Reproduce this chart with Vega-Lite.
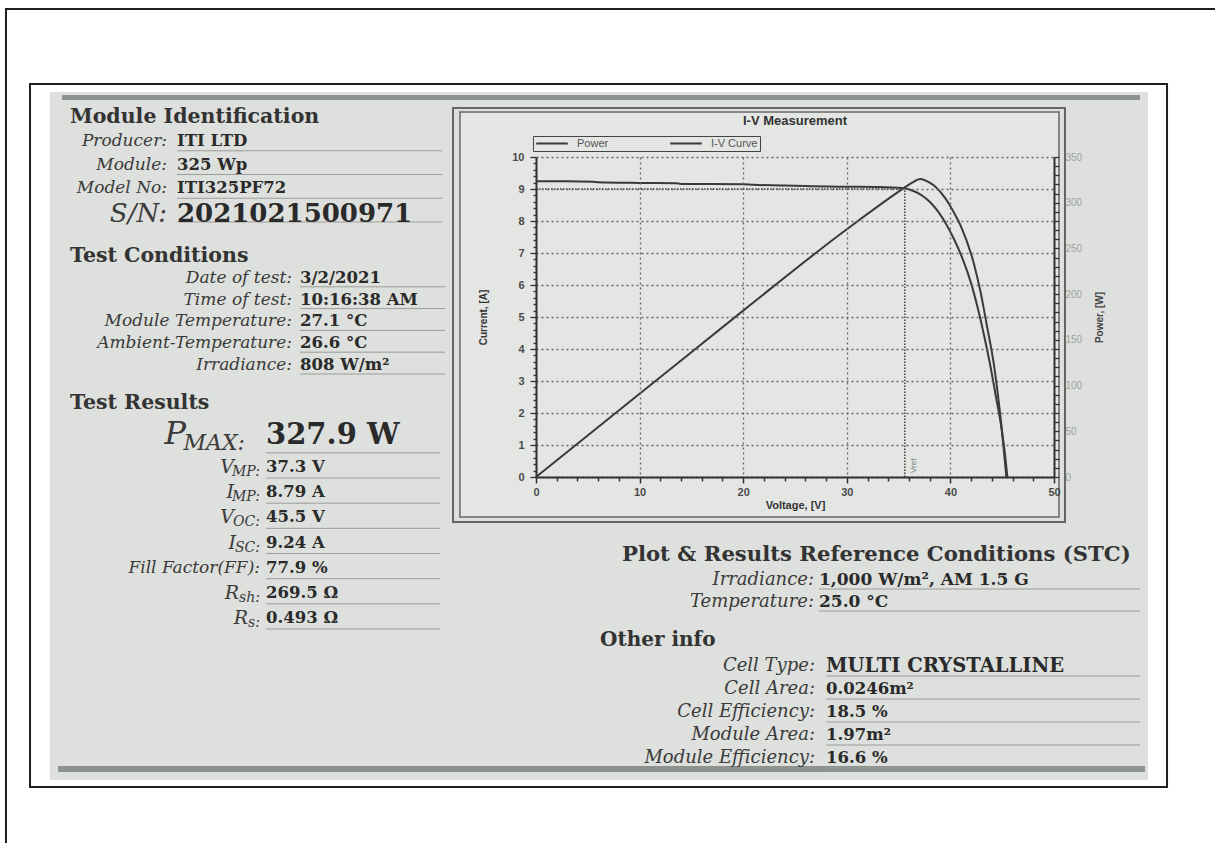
{
 "$schema": "https://vega.github.io/schema/vega-lite/v6.json",
 "width": 518,
 "height": 320,
 "padding": {"left": 536, "top": 157, "right": 161, "bottom": 366},
 "autosize": {"type": "none"},
 "background": "#ffffff",
 "config": {"view": {"stroke": null}, "font": "Liberation Sans"},
 "datasets": {
  "iv": [
   {"V": 0, "I": 9.24}, {"V": 3, "I": 9.24}, {"V": 5.5, "I": 9.23}, {"V": 6, "I": 9.21},
   {"V": 10, "I": 9.19}, {"V": 13.5, "I": 9.18}, {"V": 14, "I": 9.16}, {"V": 20, "I": 9.15},
   {"V": 21, "I": 9.13}, {"V": 24, "I": 9.11}, {"V": 26, "I": 9.09}, {"V": 30, "I": 9.07},
   {"V": 33, "I": 9.06}, {"V": 35.5, "I": 9.02}, {"V": 36.5, "I": 8.93}, {"V": 37.3, "I": 8.79},
   {"V": 38, "I": 8.6}, {"V": 38.8, "I": 8.3}, {"V": 39.6, "I": 7.9}, {"V": 40.4, "I": 7.4},
   {"V": 41.2, "I": 6.8}, {"V": 42, "I": 6.05}, {"V": 42.7, "I": 5.2}, {"V": 43.3, "I": 4.35},
   {"V": 43.9, "I": 3.4}, {"V": 44.4, "I": 2.5}, {"V": 44.9, "I": 1.6}, {"V": 45.2, "I": 0.9},
   {"V": 45.5, "I": 0}
  ],
  "power": [
   {"V": 0, "P": 0}, {"V": 10, "P": 91}, {"V": 20, "P": 182}, {"V": 30, "P": 271},
   {"V": 35.5, "P": 316}, {"V": 36.3, "P": 322}, {"V": 37.1, "P": 326}, {"V": 38, "P": 322},
   {"V": 38.5, "P": 318}, {"V": 39.5, "P": 305}, {"V": 40.3, "P": 290}, {"V": 41.1, "P": 272},
   {"V": 42.3, "P": 232}, {"V": 42.9, "P": 203}, {"V": 43.5, "P": 167}, {"V": 44.2, "P": 123},
   {"V": 44.8, "P": 69}, {"V": 45.4, "P": 0}
  ],
  "ref": [{"label": "Vref", "V": 35.6, "I": 9.0, "V0": 0, "I0": 0}],
  "info": [
   {"sec": "MI", "i": 0, "label": "Module Identification", "value": ""},
   {"sec": "MI", "i": 1, "label": "Producer:", "value": "ITI LTD"},
   {"sec": "MI", "i": 2, "label": "Module:", "value": "325 Wp"},
   {"sec": "MI", "i": 3, "label": "Model No:", "value": "ITI325PF72"},
   {"sec": "MI", "i": 4, "label": "S/N:", "value": "2021021500971"},
   {"sec": "TC", "i": 0, "label": "Test Conditions", "value": ""},
   {"sec": "TC", "i": 1, "label": "Date of test:", "value": "3/2/2021"},
   {"sec": "TC", "i": 2, "label": "Time of test:", "value": "10:16:38 AM"},
   {"sec": "TC", "i": 3, "label": "Module Temperature:", "value": "27.1 °C"},
   {"sec": "TC", "i": 4, "label": "Ambient-Temperature:", "value": "26.6 °C"},
   {"sec": "TC", "i": 5, "label": "Irradiance:", "value": "808 W/m²"},
   {"sec": "TR", "i": 0, "label": "Test Results", "sub": "", "value": ""},
   {"sec": "TR", "i": 1, "label": "P", "sub": "MAX:", "value": "327.9 W"},
   {"sec": "TR", "i": 2, "label": "V", "sub": "MP:", "value": "37.3 V"},
   {"sec": "TR", "i": 3, "label": "I", "sub": "MP:", "value": "8.79 A"},
   {"sec": "TR", "i": 4, "label": "V", "sub": "OC:", "value": "45.5 V"},
   {"sec": "TR", "i": 5, "label": "I", "sub": "SC:", "value": "9.24 A"},
   {"sec": "TR", "i": 6, "label": "Fill Factor(FF):", "sub": "", "value": "77.9 %"},
   {"sec": "TR", "i": 7, "label": "R", "sub": "sh:", "value": "269.5 Ω"},
   {"sec": "TR", "i": 8, "label": "R", "sub": "s:", "value": "0.493 Ω"},
   {"sec": "STC", "i": 0, "label": "Plot & Results Reference Conditions (STC)", "value": ""},
   {"sec": "STC", "i": 1, "label": "Irradiance:", "value": "1,000 W/m², AM 1.5 G"},
   {"sec": "STC", "i": 2, "label": "Temperature:", "value": "25.0 °C"},
   {"sec": "OI", "i": 0, "label": "Other info", "value": ""},
   {"sec": "OI", "i": 1, "label": "Cell Type:", "value": "MULTI CRYSTALLINE"},
   {"sec": "OI", "i": 2, "label": "Cell Area:", "value": "0.0246m²"},
   {"sec": "OI", "i": 3, "label": "Cell Efficiency:", "value": "18.5 %"},
   {"sec": "OI", "i": 4, "label": "Module Area:", "value": "1.97m²"},
   {"sec": "OI", "i": 5, "label": "Module Efficiency:", "value": "16.6 %"}
  ]
 },
 "layer": [
  {
   "layer": [
    {
     "data": {"values": [{}]},
     "mark": {"type": "rect", "fillOpacity": 0, "stroke": "#1e1e1e", "strokeWidth": 2},
     "encoding": {
      "x": {"datum": -51.16, "type": "quantitative", "scale": {"domain": [0, 50], "nice": false, "zero": false}},
      "x2": {"datum": 66.5},
      "y": {"datum": 14.625, "type": "quantitative", "scale": {"domain": [0, 10], "nice": false}},
      "y2": {"datum": -11.97}
     }
    },
    {
     "data": {"values": [{}]},
     "mark": {"type": "rect", "fill": "#dde0dc"},
     "encoding": {"x": {"datum": -46.91, "type": "quantitative"}, "x2": {"datum": 59.07}, "y": {"datum": 12.031, "type": "quantitative"}, "y2": {"datum": -9.469}}
    },
    {
     "data": {"values": [{}]},
     "mark": {"type": "rect", "fill": "#8e928e"},
     "encoding": {"x": {"datum": -45.75, "type": "quantitative"}, "x2": {"datum": 58.3}, "y": {"datum": 11.94, "type": "quantitative"}, "y2": {"datum": 11.78}}
    },
    {
     "data": {"values": [{}]},
     "mark": {"type": "rect", "fill": "#8e928e"},
     "encoding": {"x": {"datum": -46.14, "type": "quantitative"}, "x2": {"datum": 58.78}, "y": {"datum": -9.03, "type": "quantitative"}, "y2": {"datum": -9.22}}
    },
    {
     "data": {"values": [{}]},
     "mark": {"type": "rect", "fillOpacity": 0, "stroke": "#1e1e1e", "strokeWidth": 2},
     "encoding": {"x": {"datum": -48.84, "type": "quantitative"}, "x2": {"datum": 60.91}, "y": {"datum": 12.28, "type": "quantitative"}, "y2": {"datum": -9.69}}
    },
    {
     "data": {"values": [{}]},
     "mark": {"type": "rect", "fillOpacity": 0, "stroke": "#666666", "strokeWidth": 2},
     "encoding": {"x": {"datum": -8.01, "type": "quantitative"}, "x2": {"datum": 51.06}, "y": {"datum": 11.53, "type": "quantitative"}, "y2": {"datum": -1.41}}
    },
    {
     "data": {"values": [{}]},
     "mark": {"type": "rect", "fill": "#e3e6e2", "stroke": "#666666", "strokeWidth": 1.5},
     "encoding": {"x": {"datum": -7.34, "type": "quantitative"}, "x2": {"datum": 50.48}, "y": {"datum": 11.41, "type": "quantitative"}, "y2": {"datum": -1.25}}
    },
    {
     "data": {"name": "ref"},
     "mark": {"type": "rule", "color": "#444444", "strokeWidth": 1.5, "strokeDash": [1.5, 1.5]},
     "encoding": {"x": {"field": "V", "type": "quantitative", "title": "Voltage, [V]"}, "y": {"field": "I0", "type": "quantitative", "title": "Current, [A]"}, "y2": {"field": "I"}}
    },
    {
     "data": {"name": "ref"},
     "mark": {"type": "rule", "color": "#444444", "strokeWidth": 1.5, "strokeDash": [1.5, 1.5]},
     "encoding": {"x": {"field": "V0", "type": "quantitative", "title": "Voltage, [V]"}, "x2": {"field": "V"}, "y": {"field": "I", "type": "quantitative", "title": "Current, [A]"}}
    },
    {
     "data": {"name": "iv"},
     "mark": {"type": "line", "strokeWidth": 2, "interpolate": "monotone"},
     "encoding": {
      "x": {
       "field": "V", "type": "quantitative", "title": "Voltage, [V]",
       "scale": {"domain": [0, 50], "nice": false, "zero": false},
       "axis": {
        "orient": "bottom", "values": [0, 10, 20, 30, 40, 50], "tickCount": 100, "format": "d",
        "labelFont": "Liberation Sans", "labelFontSize": 11, "labelFontWeight": "bold", "labelColor": "#4a4a4a", "labelPadding": 3, "labelFlush": false, "labelOverlap": false,
        "tickColor": "#333333", "tickWidth": 1.5, "tickSize": 6,
        "domainColor": "#333333", "domainWidth": 2,
        "grid": true, "gridColor": "#666666", "gridDash": [2, 3], "gridWidth": 1.3,
        "titleFont": "Liberation Sans", "titleFontSize": 11, "titleFontWeight": "bold", "titleColor": "#333333", "titlePadding": 2,
        "zindex": 1
       }
      },
      "y": {
       "field": "I", "type": "quantitative", "title": "Current, [A]",
       "scale": {"domain": [0, 10], "nice": false},
       "axis": {
        "orient": "left", "values": [0, 1, 2, 3, 4, 5, 6, 7, 8, 9, 10], "tickCount": 100, "format": "d",
        "labelFont": "Liberation Sans", "labelFontSize": 11, "labelFontWeight": "bold", "labelColor": "#4a4a4a", "labelPadding": 6, "labelFlush": false, "labelOverlap": false,
        "tickColor": "#333333", "tickWidth": 1.3, "tickSize": 6,
        "domainColor": "#333333", "domainWidth": 2,
        "grid": true, "gridColor": "#666666", "gridDash": [2, 3], "gridWidth": 1.3,
        "titleFont": "Liberation Sans", "titleFontSize": 10, "titleFontWeight": "bold", "titleColor": "#333333", "titlePadding": 23,
        "zindex": 1
       }
      },
      "color": {
       "datum": "I-V Curve", "type": "nominal",
       "scale": {"domain": ["Power", "I-V Curve"], "range": ["#3a3a3a", "#3a3a3a"]},
       "legend": {
        "orient": "none", "legendX": -3, "legendY": -21, "direction": "horizontal", "title": null,
        "symbolType": "stroke", "symbolSize": 1000, "symbolStrokeWidth": 2, "symbolStrokeColor": "#3a3a3a",
        "labelFont": "Liberation Sans", "labelFontSize": 11, "labelColor": "#555555",
        "padding": 2, "strokeColor": "#444444", "fillColor": "#e3e6e2",
        "columnPadding": 60, "labelOffset": 8, "clipHeight": 11
       }
      }
     }
    }
   ]
  },
  {
   "data": {"name": "power"},
   "mark": {"type": "line", "strokeWidth": 2, "interpolate": "monotone"},
   "encoding": {
    "x": {
     "field": "V", "type": "quantitative",
     "scale": {"domain": [0, 50], "nice": false, "zero": false},
     "axis": {
      "orient": "bottom", "title": null, "values": [2,4,6,8,12,14,16,18,22,24,26,28,32,34,36,38,42,44,46,48], "tickCount": 100,
      "labels": false, "domain": false, "grid": false, "tickSize": 4, "tickWidth": 1.5, "tickColor": "#333333", "zindex": 1
     }
    },
    "y": {
     "field": "P", "type": "quantitative", "title": "Power, [W]",
     "scale": {"domain": [0, 350], "nice": false},
     "axis": {
      "orient": "right", "tickCount": 100, "format": "d",
      "values": [0,10,20,30,40,50,60,70,80,90,100,110,120,130,140,150,160,170,180,190,200,210,220,230,240,250,260,270,280,290,300,310,320,330,340,350],
      "labelExpr": "datum.value % 50 === 0 ? datum.label : ''",
      "labelOverlap": false, "labelFlush": false,
      "labelFont": "Liberation Sans", "labelFontSize": 10, "labelColor": "#a0a0a0", "labelPadding": 6,
      "tickColor": "#333333", "tickWidth": 1.3, "tickSize": 5,
      "domainColor": "#333333", "domainWidth": 2,
      "grid": false,
      "titleFont": "Liberation Sans", "titleFontSize": 10, "titleFontWeight": "bold", "titleColor": "#444444", "titlePadding": 23, "titleAngle": 270,
      "zindex": 1
     }
    },
    "color": {"datum": "Power", "type": "nominal"}
   }
  },
  {
   "data": {"name": "ref"},
   "mark": {"type": "text", "angle": 270, "align": "left", "baseline": "middle", "fontSize": 8, "color": "#777777", "dx": 4, "dy": 9},
   "encoding": {
    "x": {"field": "V", "type": "quantitative", "scale": {"domain": [0, 50], "nice": false, "zero": false}, "axis": null},
    "y": {
     "field": "I0", "type": "quantitative",
     "scale": {"domain": [0, 10], "nice": false},
     "axis": {
      "orient": "left", "title": null, "tickCount": 100,
      "values": [0.2,0.4,0.6,0.8,1.2,1.4,1.6,1.8,2.2,2.4,2.6,2.8,3.2,3.4,3.6,3.8,4.2,4.4,4.6,4.8,5.2,5.4,5.6,5.8,6.2,6.4,6.6,6.8,7.2,7.4,7.6,7.8,8.2,8.4,8.6,8.8,9.2,9.4,9.6,9.8],
      "labels": false, "domain": false, "grid": false, "tickSize": 3, "tickWidth": 1.3, "tickColor": "#333333", "zindex": 1
     }
    },
    "text": {"field": "label"}
   }
  },
  {
   "data": {"values": [{"t": "I-V Measurement", "n": 0}]},
   "mark": {"type": "text", "font": "Liberation Sans", "fontWeight": "bold", "fontSize": 13, "color": "#333333", "baseline": "middle"},
   "encoding": {
    "x": {"datum": 0.5, "type": "quantitative", "scale": {"domain": [0, 1], "range": [0, 518]}, "axis": null},
    "y": {"field": "n", "type": "quantitative", "scale": {"domain": [0, 1], "range": [-36, 0]}, "axis": null},
    "text": {"field": "t"}
   }
  },
  {
   "data": {"name": "info"},
   "transform": [{"filter": "datum.sec === 'MI'"}],
   "encoding": {
    "x": {"datum": 0, "type": "quantitative", "scale": {"domain": [0, 1], "range": [-359, -94]}, "axis": null},
    "y": {"field": "i", "type": "quantitative", "scale": {"domain": [0, 4], "range": [-40, 55]}, "axis": null}
   },
   "layer": [
    {"transform": [{"filter": "datum.i === 0"}], "mark": {"type": "text", "align": "left", "baseline": "middle", "font": "DejaVu Serif", "fontWeight": "bold", "fontSize": 20.5, "color": "#333333", "dx": -107}, "encoding": {"text": {"field": "label"}}},
    {"transform": [{"filter": "datum.i > 0"}], "mark": {"type": "rule", "color": "#9c9c9c", "strokeWidth": 1, "yOffset": 10}, "encoding": {"x2": {"datum": 1}}},
    {"transform": [{"filter": "datum.i > 0 && datum.i < 4"}], "mark": {"type": "text", "align": "right", "baseline": "middle", "font": "DejaVu Serif", "fontStyle": "italic", "fontSize": 17, "color": "#3a3a3a", "dx": -10}, "encoding": {"text": {"field": "label"}}},
    {"transform": [{"filter": "datum.i > 0 && datum.i < 4"}], "mark": {"type": "text", "align": "left", "baseline": "middle", "font": "DejaVu Serif", "fontWeight": "bold", "fontSize": 16.5, "color": "#2a2a2a"}, "encoding": {"text": {"field": "value"}}},
    {"transform": [{"filter": "datum.i === 4"}], "mark": {"type": "text", "align": "right", "baseline": "middle", "font": "DejaVu Serif", "fontStyle": "italic", "fontSize": 26, "color": "#3a3a3a", "dx": -10, "dy": 2}, "encoding": {"text": {"field": "label"}}},
    {"transform": [{"filter": "datum.i === 4"}], "mark": {"type": "text", "align": "left", "baseline": "middle", "font": "DejaVu Serif", "fontWeight": "bold", "fontSize": 26, "color": "#2a2a2a", "dy": 2}, "encoding": {"text": {"field": "value"}}}
   ]
  },
  {
   "data": {"name": "info"},
   "transform": [{"filter": "datum.sec === 'TC'"}],
   "encoding": {
    "x": {"datum": 0, "type": "quantitative", "scale": {"domain": [0, 1], "range": [-236, -91]}, "axis": null},
    "y": {"field": "i", "type": "quantitative", "scale": {"domain": [0, 5], "range": [99, 208]}, "axis": null}
   },
   "layer": [
    {"transform": [{"filter": "datum.i === 0"}], "mark": {"type": "text", "align": "left", "baseline": "middle", "font": "DejaVu Serif", "fontWeight": "bold", "fontSize": 20.5, "color": "#333333", "dx": -230}, "encoding": {"text": {"field": "label"}}},
    {"transform": [{"filter": "datum.i > 0"}], "mark": {"type": "rule", "color": "#9c9c9c", "strokeWidth": 1, "yOffset": 9}, "encoding": {"x2": {"datum": 1}}},
    {"transform": [{"filter": "datum.i > 0"}], "mark": {"type": "text", "align": "right", "baseline": "middle", "font": "DejaVu Serif", "fontStyle": "italic", "fontSize": 17, "color": "#3a3a3a", "dx": -8}, "encoding": {"text": {"field": "label"}}},
    {"transform": [{"filter": "datum.i > 0"}], "mark": {"type": "text", "align": "left", "baseline": "middle", "font": "DejaVu Serif", "fontWeight": "bold", "fontSize": 16.5, "color": "#2a2a2a"}, "encoding": {"text": {"field": "value"}}}
   ]
  },
  {
   "data": {"name": "info"},
   "transform": [{"filter": "datum.sec === 'TR'"}],
   "encoding": {
    "x": {"datum": 0, "type": "quantitative", "scale": {"domain": [0, 1], "range": [-270, -96]}, "axis": null},
    "y": {"field": "i", "type": "quantitative", "scale": {"domain": [0, 8], "range": [259.7, 461]}, "axis": null}
   },
   "layer": [
    {"transform": [{"filter": "datum.i === 0"}], "mark": {"type": "text", "align": "left", "baseline": "middle", "font": "DejaVu Serif", "fontWeight": "bold", "fontSize": 20.5, "color": "#333333", "dx": -196, "dy": -14}, "encoding": {"text": {"field": "label"}}},
    {"transform": [{"filter": "datum.i > 0"}], "mark": {"type": "rule", "color": "#9c9c9c", "strokeWidth": 1, "yOffset": 11}, "encoding": {"x2": {"datum": 1}}},
    {"transform": [{"filter": "datum.i === 1"}], "mark": {"type": "text", "align": "left", "baseline": "middle", "font": "DejaVu Serif", "fontWeight": "bold", "fontSize": 29, "color": "#2a2a2a", "dy": -7}, "encoding": {"text": {"field": "value"}}},
    {"transform": [{"filter": "datum.i === 1"}], "mark": {"type": "text", "align": "right", "baseline": "middle", "font": "DejaVu Serif", "fontStyle": "italic", "fontSize": 32, "color": "#3a3a3a", "dx": -80, "dy": -8}, "encoding": {"text": {"field": "label"}}},
    {"transform": [{"filter": "datum.i === 1"}], "mark": {"type": "text", "align": "right", "baseline": "middle", "font": "DejaVu Serif", "fontStyle": "italic", "fontSize": 22, "color": "#3a3a3a", "dx": -21, "dy": 1}, "encoding": {"text": {"field": "sub"}}},
    {"transform": [{"filter": "datum.i > 1"}], "mark": {"type": "text", "align": "left", "baseline": "middle", "font": "DejaVu Serif", "fontWeight": "bold", "fontSize": 16.5, "color": "#2a2a2a"}, "encoding": {"text": {"field": "value"}}},
    {"transform": [{"filter": "datum.i > 1 && datum.sub === ''"}], "mark": {"type": "text", "align": "right", "baseline": "middle", "font": "DejaVu Serif", "fontStyle": "italic", "fontSize": 17, "color": "#3a3a3a", "dx": -6}, "encoding": {"text": {"field": "label"}}},
    {"transform": [{"filter": "datum.i > 1 && datum.sub !== ''"}], "mark": {"type": "text", "align": "right", "baseline": "middle", "font": "DejaVu Serif", "fontStyle": "italic", "fontSize": 14, "color": "#3a3a3a", "dx": -6, "dy": 5}, "encoding": {"text": {"field": "sub"}}},
    {"transform": [{"filter": "datum.sub === 'MP:' || datum.sub === 'OC:'"}], "mark": {"type": "text", "align": "right", "baseline": "middle", "font": "DejaVu Serif", "fontStyle": "italic", "fontSize": 19, "color": "#3a3a3a", "dx": -32}, "encoding": {"text": {"field": "label"}}},
    {"transform": [{"filter": "datum.sub === 'SC:'"}], "mark": {"type": "text", "align": "right", "baseline": "middle", "font": "DejaVu Serif", "fontStyle": "italic", "fontSize": 19, "color": "#3a3a3a", "dx": -30}, "encoding": {"text": {"field": "label"}}},
    {"transform": [{"filter": "datum.sub === 'sh:'"}], "mark": {"type": "text", "align": "right", "baseline": "middle", "font": "DejaVu Serif", "fontStyle": "italic", "fontSize": 19, "color": "#3a3a3a", "dx": -27}, "encoding": {"text": {"field": "label"}}},
    {"transform": [{"filter": "datum.sub === 's:'"}], "mark": {"type": "text", "align": "right", "baseline": "middle", "font": "DejaVu Serif", "fontStyle": "italic", "fontSize": 19, "color": "#3a3a3a", "dx": -18}, "encoding": {"text": {"field": "label"}}}
   ]
  },
  {
   "data": {"name": "info"},
   "transform": [{"filter": "datum.sec === 'STC'"}],
   "encoding": {
    "x": {"datum": 0, "type": "quantitative", "scale": {"domain": [0, 1], "range": [283, 604]}, "axis": null},
    "y": {"field": "i", "type": "quantitative", "scale": {"domain": [0, 2], "range": [401, 445]}, "axis": null}
   },
   "layer": [
    {"transform": [{"filter": "datum.i === 0"}], "mark": {"type": "text", "align": "left", "baseline": "middle", "font": "DejaVu Serif", "fontWeight": "bold", "fontSize": 21.2, "color": "#333333", "dx": -197, "dy": -3}, "encoding": {"text": {"field": "label"}}},
    {"transform": [{"filter": "datum.i > 0"}], "mark": {"type": "rule", "color": "#9c9c9c", "strokeWidth": 1, "yOffset": 9}, "encoding": {"x2": {"datum": 1}}},
    {"transform": [{"filter": "datum.i > 0"}], "mark": {"type": "text", "align": "right", "baseline": "middle", "font": "DejaVu Serif", "fontStyle": "italic", "fontSize": 18, "color": "#3a3a3a", "dx": -5}, "encoding": {"text": {"field": "label"}}},
    {"transform": [{"filter": "datum.i > 0"}], "mark": {"type": "text", "align": "left", "baseline": "middle", "font": "DejaVu Serif", "fontWeight": "bold", "fontSize": 17, "color": "#2a2a2a"}, "encoding": {"text": {"field": "value"}}}
   ]
  },
  {
   "data": {"name": "info"},
   "transform": [{"filter": "datum.sec === 'OI'"}],
   "encoding": {
    "x": {"datum": 0, "type": "quantitative", "scale": {"domain": [0, 1], "range": [290, 604]}, "axis": null},
    "y": {"field": "i", "type": "quantitative", "scale": {"domain": [0, 5], "range": [486, 601]}, "axis": null}
   },
   "layer": [
    {"transform": [{"filter": "datum.i === 0"}], "mark": {"type": "text", "align": "left", "baseline": "middle", "font": "DejaVu Serif", "fontWeight": "bold", "fontSize": 20, "color": "#333333", "dx": -226, "dy": -3}, "encoding": {"text": {"field": "label"}}},
    {"transform": [{"filter": "datum.i > 0"}], "mark": {"type": "rule", "color": "#9c9c9c", "strokeWidth": 1, "yOffset": 10}, "encoding": {"x2": {"datum": 1}}},
    {"transform": [{"filter": "datum.i > 0"}], "mark": {"type": "text", "align": "right", "baseline": "middle", "font": "DejaVu Serif", "fontStyle": "italic", "fontSize": 18, "color": "#3a3a3a", "dx": -11}, "encoding": {"text": {"field": "label"}}},
    {"transform": [{"filter": "datum.i === 1"}], "mark": {"type": "text", "align": "left", "baseline": "middle", "font": "DejaVu Serif", "fontWeight": "bold", "fontSize": 19.5, "color": "#2a2a2a"}, "encoding": {"text": {"field": "value"}}},
    {"transform": [{"filter": "datum.i > 1"}], "mark": {"type": "text", "align": "left", "baseline": "middle", "font": "DejaVu Serif", "fontWeight": "bold", "fontSize": 16.5, "color": "#2a2a2a"}, "encoding": {"text": {"field": "value"}}}
   ]
  }
 ],
 "resolve": {"scale": {"x": "independent", "y": "independent"}}
}
